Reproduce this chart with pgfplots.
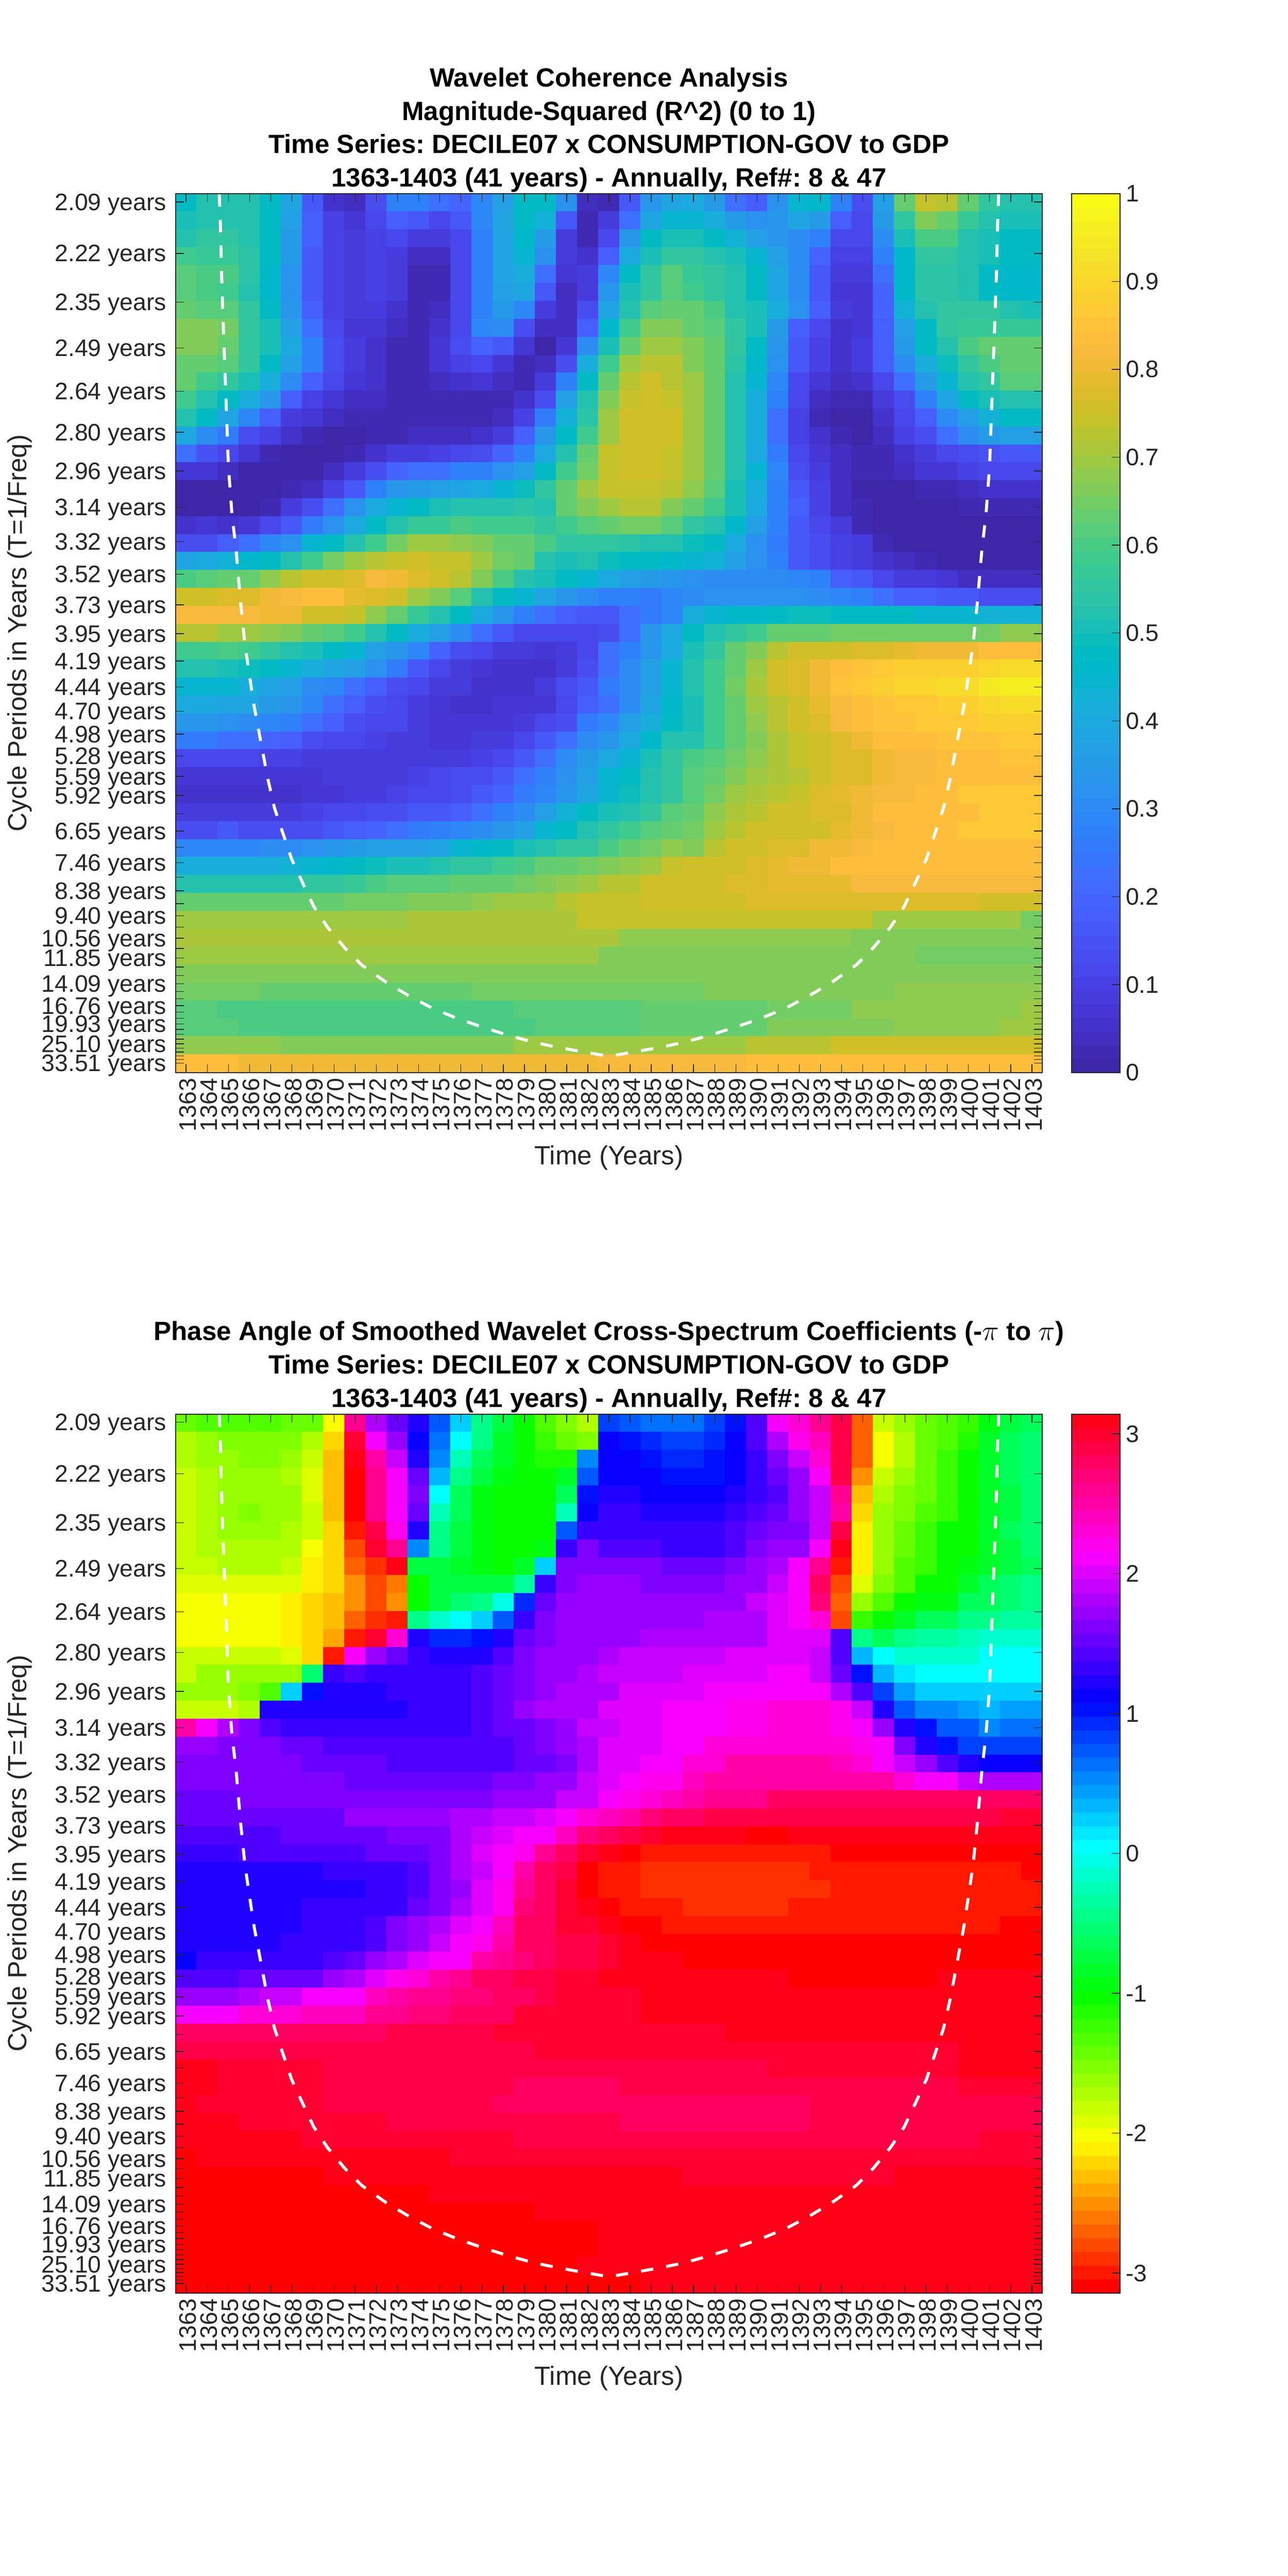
\documentclass[border=0pt]{standalone}
\usepackage{fontspec}
\setmainfont{Liberation Sans}
\usepackage{etoolbox}
\usepackage{pgfplots}
\pgfplotsset{compat=1.18}
\definecolor{axc}{HTML}{262626}
\newcount\cellc \newcount\rowr
\gdef\acc{}
\def\addcell#1{\ifnum\cellc<41 \xappto\acc{(\the\cellc,\the\rowr) [#1] }\global\advance\cellc 1 \fi\xdef\lastv{#1}}
\def\pad{\ifnum\cellc<41 \addcell{\lastv}\expandafter\pad\fi}
\def\RRi#1 {\ifx\stopR#1\else\addcell{#1}\expandafter\RRi\fi}
\def\R#1{\global\cellc=0 \RRi#1 \stopR{} \pad\global\advance\rowr 1 }
% ---- magnitude-squared coherence, 49 rows (top to bottom) x 41 years
\R{.48 .52 .53 .53 .48 .39 .16 .06 .04 .14 .28 .27 .23 .20 .29 .37 .48 .48 .32 .04 .03 .16 .34 .39 .40 .35 .23 .18 .32 .45 .46 .27 .14 .37 .64 .74 .72 .64 .55 .52 .52}
\R{.51 .52 .53 .52 .47 .37 .18 .10 .07 .12 .18 .17 .12 .16 .29 .39 .47 .43 .16 .03 .08 .23 .39 .44 .44 .41 .35 .32 .34 .39 .35 .18 .12 .35 .55 .66 .64 .57 .52 .51 .51}
\R{.53 .55 .55 .53 .47 .35 .18 .10 .08 .10 .11 .09 .08 .12 .27 .38 .46 .35 .09 .03 .12 .33 .47 .51 .51 .48 .43 .37 .33 .31 .27 .12 .11 .31 .51 .60 .60 .53 .51 .47 .47}
\R{.59 .57 .57 .54 .47 .35 .17 .10 .09 .10 .09 .04 .04 .11 .27 .38 .45 .32 .08 .06 .18 .40 .51 .56 .56 .53 .51 .45 .37 .31 .20 .10 .10 .27 .46 .55 .55 .53 .51 .47 .47}
\R{.62 .60 .60 .54 .46 .32 .17 .10 .08 .10 .09 .03 .03 .11 .27 .38 .42 .23 .07 .08 .29 .48 .55 .61 .57 .55 .53 .47 .39 .30 .17 .09 .08 .22 .46 .54 .54 .52 .48 .46 .46}
\R{.62 .60 .59 .53 .46 .32 .17 .10 .08 .10 .09 .03 .03 .11 .27 .37 .39 .16 .04 .09 .34 .50 .56 .61 .59 .55 .53 .48 .39 .30 .17 .07 .07 .20 .46 .54 .54 .52 .48 .46 .46}
\R{.64 .62 .62 .55 .47 .34 .18 .10 .08 .09 .06 .03 .04 .11 .27 .35 .29 .09 .04 .13 .39 .52 .61 .63 .63 .60 .53 .51 .42 .32 .18 .08 .07 .20 .43 .52 .55 .56 .55 .53 .51}
\R{.66 .66 .65 .56 .50 .37 .23 .11 .07 .07 .04 .03 .06 .12 .29 .30 .14 .04 .04 .18 .46 .59 .66 .66 .64 .62 .55 .51 .35 .18 .12 .06 .07 .18 .37 .48 .55 .57 .57 .57 .57}
\R{.66 .66 .63 .56 .50 .40 .28 .14 .08 .06 .03 .03 .07 .13 .20 .16 .07 .01 .07 .31 .51 .63 .70 .70 .67 .63 .55 .48 .33 .16 .10 .06 .09 .18 .35 .48 .53 .60 .63 .63 .63}
\R{.64 .63 .61 .55 .48 .37 .28 .14 .08 .06 .03 .03 .07 .10 .11 .07 .03 .04 .14 .41 .59 .70 .73 .73 .66 .63 .54 .46 .32 .16 .10 .06 .09 .18 .31 .42 .49 .55 .60 .63 .64}
\R{.63 .59 .55 .51 .42 .31 .18 .12 .07 .06 .03 .03 .04 .06 .07 .04 .03 .08 .27 .47 .64 .73 .75 .73 .70 .64 .53 .44 .29 .12 .07 .04 .06 .11 .22 .35 .45 .52 .56 .61 .62}
\R{.59 .53 .48 .42 .34 .18 .10 .07 .04 .04 .03 .03 .03 .03 .03 .03 .06 .14 .36 .53 .66 .74 .76 .74 .70 .64 .53 .41 .27 .11 .04 .03 .03 .08 .14 .27 .38 .48 .51 .53 .53}
\R{.53 .47 .39 .29 .18 .09 .07 .04 .03 .03 .03 .03 .03 .03 .03 .04 .10 .25 .43 .54 .70 .75 .76 .75 .70 .64 .53 .41 .23 .10 .03 .01 .01 .06 .11 .18 .30 .37 .43 .48 .48}
\R{.40 .31 .25 .14 .10 .06 .03 .01 .01 .03 .03 .04 .04 .04 .06 .09 .18 .34 .47 .59 .70 .75 .76 .75 .70 .64 .53 .41 .23 .10 .06 .03 .01 .04 .10 .14 .23 .31 .35 .37 .37}
\R{.22 .15 .12 .07 .03 .01 .01 .01 .03 .06 .08 .09 .10 .11 .13 .20 .27 .40 .53 .63 .74 .76 .76 .74 .70 .63 .53 .40 .25 .12 .07 .04 .03 .03 .06 .09 .11 .14 .15 .16 .16}
\R{.07 .07 .04 .01 .01 .01 .01 .04 .08 .14 .20 .23 .23 .27 .28 .32 .37 .48 .59 .65 .74 .76 .76 .74 .70 .63 .52 .44 .29 .14 .09 .04 .03 .03 .04 .07 .07 .10 .11 .11 .11}
\R{.01 .01 .01 .01 .01 .03 .04 .10 .17 .27 .34 .35 .36 .38 .40 .44 .49 .55 .63 .70 .74 .74 .74 .72 .68 .62 .51 .41 .27 .16 .10 .04 .01 .01 .01 .03 .03 .04 .06 .06 .06}
\R{.01 .01 .01 .01 .03 .09 .13 .22 .32 .40 .45 .48 .51 .52 .52 .53 .54 .53 .63 .66 .70 .72 .72 .67 .64 .59 .50 .40 .27 .18 .10 .04 .03 .01 .00 .01 .01 .03 .03 .03 .03}
\R{.06 .07 .06 .07 .12 .17 .25 .32 .40 .48 .53 .57 .57 .60 .59 .59 .59 .56 .59 .62 .64 .65 .65 .62 .56 .52 .46 .37 .27 .17 .12 .09 .03 .01 .01 .00 .01 .01 .01 .01 .01}
\R{.13 .13 .18 .22 .29 .32 .44 .47 .53 .59 .65 .69 .69 .68 .66 .64 .63 .60 .56 .56 .55 .54 .53 .52 .49 .47 .40 .32 .25 .17 .14 .10 .08 .03 .01 .01 .01 .01 .01 .01 .01}
\R{.39 .40 .43 .46 .48 .53 .59 .65 .70 .73 .74 .75 .74 .74 .70 .65 .63 .53 .51 .52 .49 .48 .47 .46 .45 .43 .37 .32 .27 .16 .13 .10 .08 .06 .04 .03 .01 .01 .01 .01 .00}
\R{.60 .62 .63 .64 .68 .73 .76 .76 .78 .82 .80 .77 .75 .72 .67 .60 .53 .51 .47 .44 .40 .37 .35 .33 .32 .31 .31 .31 .31 .29 .27 .18 .16 .11 .09 .08 .07 .04 .04 .04 .04}
\R{.76 .76 .78 .78 .80 .82 .84 .83 .79 .78 .75 .70 .67 .61 .53 .48 .45 .39 .34 .30 .28 .27 .25 .29 .31 .32 .32 .32 .32 .32 .31 .29 .27 .22 .18 .18 .17 .16 .14 .14 .14}
\R{.82 .82 .82 .82 .81 .80 .76 .75 .74 .68 .64 .57 .52 .48 .40 .34 .28 .22 .18 .17 .17 .22 .25 .29 .42 .44 .46 .46 .48 .49 .49 .48 .48 .48 .47 .45 .44 .44 .43 .43 .43}
\R{.72 .72 .70 .70 .68 .66 .64 .62 .59 .53 .47 .42 .37 .31 .22 .16 .12 .11 .11 .11 .14 .23 .34 .40 .47 .52 .55 .59 .63 .63 .64 .65 .65 .65 .65 .65 .65 .65 .65 .68 .68}
\R{.59 .59 .60 .59 .55 .52 .50 .47 .44 .37 .34 .29 .20 .13 .11 .09 .08 .07 .08 .11 .23 .28 .34 .40 .51 .55 .63 .66 .72 .75 .76 .76 .78 .78 .79 .80 .81 .81 .83 .83 .83}
\R{.52 .52 .51 .49 .48 .45 .42 .39 .37 .32 .25 .17 .11 .09 .07 .06 .06 .06 .09 .14 .23 .31 .37 .44 .52 .59 .64 .70 .75 .78 .80 .84 .85 .86 .88 .88 .89 .89 .90 .92 .92}
\R{.45 .45 .44 .42 .39 .37 .31 .29 .23 .18 .14 .11 .09 .08 .06 .06 .06 .08 .13 .17 .25 .30 .37 .45 .52 .59 .65 .71 .75 .78 .81 .85 .86 .88 .90 .90 .91 .91 .95 .96 .96}
\R{.40 .40 .39 .38 .35 .33 .29 .23 .18 .14 .11 .09 .07 .06 .06 .07 .07 .07 .11 .18 .23 .31 .39 .46 .51 .59 .64 .70 .73 .76 .79 .82 .84 .85 .86 .87 .88 .88 .90 .91 .91}
\R{.34 .34 .32 .31 .29 .28 .23 .18 .14 .12 .11 .09 .07 .07 .07 .07 .09 .11 .14 .25 .29 .37 .42 .48 .51 .59 .64 .68 .73 .76 .78 .82 .83 .85 .85 .86 .87 .87 .88 .88 .88}
\R{.25 .25 .22 .22 .20 .18 .14 .12 .11 .10 .09 .08 .07 .07 .08 .09 .11 .16 .22 .30 .34 .40 .46 .52 .53 .59 .64 .67 .71 .74 .76 .78 .81 .83 .83 .84 .85 .85 .85 .86 .86}
\R{.12 .12 .11 .11 .10 .10 .09 .09 .08 .08 .08 .08 .09 .09 .10 .12 .17 .23 .30 .35 .40 .45 .50 .55 .60 .61 .65 .68 .71 .74 .76 .77 .77 .80 .82 .82 .84 .84 .84 .85 .85}
\R{.07 .07 .07 .07 .07 .07 .07 .08 .08 .09 .09 .10 .11 .13 .14 .17 .22 .27 .32 .37 .44 .47 .53 .56 .62 .63 .66 .70 .71 .73 .76 .78 .78 .80 .82 .82 .84 .84 .84 .84 .84}
\R{.06 .06 .06 .06 .06 .06 .07 .07 .08 .09 .10 .11 .12 .14 .17 .20 .25 .29 .34 .38 .45 .49 .52 .56 .62 .65 .69 .71 .73 .74 .78 .79 .81 .82 .82 .84 .84 .86 .86 .86 .86}
\R{.08 .08 .08 .08 .08 .09 .10 .11 .12 .13 .14 .16 .17 .18 .22 .27 .31 .37 .43 .48 .51 .53 .55 .61 .64 .68 .71 .73 .75 .75 .77 .78 .80 .83 .84 .84 .84 .84 .87 .87 .87}
\R{.14 .14 .16 .14 .14 .14 .14 .17 .18 .20 .23 .25 .28 .29 .31 .33 .37 .45 .48 .53 .55 .59 .62 .64 .65 .70 .72 .75 .75 .76 .76 .79 .81 .82 .84 .84 .84 .87 .87 .87 .87}
\R{.29 .29 .29 .29 .30 .31 .32 .34 .35 .36 .37 .37 .39 .44 .46 .48 .51 .53 .55 .55 .60 .63 .65 .68 .67 .73 .75 .76 .77 .78 .81 .81 .82 .83 .84 .84 .84 .84 .84 .84 .84}
\R{.42 .42 .42 .42 .42 .43 .45 .46 .47 .49 .50 .51 .52 .55 .55 .59 .60 .63 .64 .65 .66 .68 .70 .74 .75 .75 .75 .78 .79 .80 .81 .83 .83 .83 .84 .84 .84 .84 .84 .84 .84}
\R{.53 .53 .53 .53 .53 .53 .55 .55 .57 .60 .61 .62 .62 .63 .64 .64 .65 .66 .68 .70 .72 .72 .75 .76 .75 .76 .78 .78 .79 .79 .79 .79 .82 .82 .82 .82 .82 .82 .82 .82 .82}
\R{.64 .64 .64 .64 .64 .64 .64 .64 .65 .65 .65 .66 .67 .67 .68 .69 .69 .70 .72 .74 .74 .74 .76 .76 .76 .76 .76 .77 .77 .77 .77 .77 .77 .77 .77 .77 .77 .77 .76 .76 .76}
\R{.70 .70 .70 .70 .70 .70 .70 .70 .70 .70 .70 .71 .71 .71 .71 .71 .71 .71 .71 .74 .74 .74 .74 .74 .74 .74 .74 .74 .74 .74 .74 .74 .74 .70 .70 .70 .70 .70 .70 .70 .65}
\R{.71 .71 .71 .71 .71 .71 .71 .71 .71 .71 .71 .71 .71 .71 .71 .71 .71 .71 .71 .71 .71 .68 .68 .68 .68 .68 .68 .68 .68 .68 .68 .68 .66 .66 .66 .66 .66 .66 .66 .66 .66}
\R{.69 .69 .69 .69 .69 .69 .69 .69 .69 .69 .69 .69 .69 .69 .69 .69 .69 .69 .69 .69 .66 .66 .66 .66 .66 .66 .66 .66 .66 .66 .66 .66 .66 .66 .66 .65 .65 .65 .65 .65 .65}
\R{.66 .66 .66 .66 .66 .66 .66 .66 .66 .66 .66 .66 .66 .66 .66 .66 .66 .66 .66 .66 .66 .66 .66 .66 .66 .66 .66 .66 .66 .66 .66 .66 .66 .66 .66 .66 .66 .66 .66 .66 .66}
\R{.65 .65 .65 .65 .64 .64 .64 .64 .64 .64 .64 .64 .64 .64 .65 .65 .65 .65 .65 .65 .65 .65 .65 .65 .65 .66 .66 .66 .66 .66 .66 .66 .66 .66 .68 .68 .68 .68 .68 .68 .68}
\R{.62 .62 .60 .60 .60 .60 .60 .60 .60 .60 .60 .60 .60 .60 .60 .60 .62 .62 .62 .62 .62 .62 .64 .64 .64 .64 .64 .64 .65 .65 .65 .65 .68 .68 .68 .68 .68 .68 .68 .68 .70}
\R{.62 .62 .62 .60 .60 .60 .60 .60 .60 .60 .60 .60 .60 .60 .60 .60 .60 .62 .62 .62 .62 .62 .64 .64 .64 .64 .64 .64 .66 .66 .66 .66 .66 .66 .68 .68 .68 .68 .68 .70 .70}
\R{.68 .68 .68 .68 .68 .67 .67 .67 .67 .67 .67 .67 .67 .67 .67 .67 .69 .69 .69 .69 .69 .69 .69 .69 .69 .69 .69 .72 .72 .72 .72 .75 .75 .75 .75 .75 .75 .75 .75 .76 .76}
\R{.84 .84 .84 .81 .81 .81 .81 .81 .81 .81 .81 .81 .81 .81 .81 .81 .81 .81 .81 .81 .82 .82 .82 .82 .82 .82 .82 .84 .84 .84 .84 .84 .84 .84 .84 .84 .84 .84 .84 .84 .84}
\let\accA\acc
\gdef\acc{}\global\rowr=0
% ---- phase angle (radians), 49 rows (top to bottom) x 41 years
\R{-1.4 -1.3 -1.3 -1.3 -1.3 -1.4 -1.4 -1.97 2.6 1.85 1.5 1.2 .75 .25 -.4 -.75 -1.0 -1.3 -1.55 -1.75 .85 .72 .62 .62 .62 .8 1.05 1.45 2.1 2.3 2.6 2.85 -2.7 -1.85 -1.6 -1.45 -1.3 -1.2 -.95 -.75 -.6}
\R{-1.7 -1.6 -1.5 -1.5 -1.5 -1.5 -1.75 -2.25 3.0 2.15 1.7 1.15 .6 0 -.45 -.8 -1.0 -1.2 -1.4 -1.55 1.15 1.05 .9 .85 .85 .9 1.1 1.4 1.85 2.2 2.45 2.85 -2.7 -1.97 -1.7 -1.4 -1.3 -1.15 -.85 -.65 -.5}
\R{-1.7 -1.6 -1.6 -1.5 -1.5 -1.6 -1.85 -2.35 3.1 2.5 1.95 1.25 .5 -.2 -.6 -.85 -1.0 -1.15 -1.15 .5 1.15 1.1 1.05 .9 .9 1.0 1.15 1.3 1.65 1.95 2.35 2.85 -2.7 -1.97 -1.7 -1.4 -1.2 -1.05 -.85 -.65 -.5}
\R{-1.8 -1.7 -1.6 -1.6 -1.6 -1.7 -1.95 -2.35 -3.1 2.6 2.1 1.5 .3 -.4 -.75 -.95 -1.05 -1.05 -.8 .7 1.15 1.15 1.1 1.05 1.05 1.05 1.1 1.35 1.5 1.7 2.1 2.85 -2.55 -1.85 -1.65 -1.4 -1.2 -1.05 -.85 -.65 -.5}
\R{-1.85 -1.7 -1.6 -1.6 -1.6 -1.6 -1.95 -2.35 -3.1 2.6 2.15 1.6 0 -.6 -.9 -1.0 -1.05 -1.05 -.6 1.0 1.25 1.25 1.15 1.15 1.15 1.15 1.2 1.3 1.45 1.7 1.95 2.6 -2.35 -1.75 -1.5 -1.45 -1.25 -1.05 -.85 -.7 -.55}
\R{-1.85 -1.7 -1.65 -1.5 -1.6 -1.6 -1.8 -2.35 -3.1 2.6 2.15 1.5 -.2 -.65 -.9 -1.0 -1.05 -1.05 -.2 1.15 1.3 1.3 1.2 1.2 1.2 1.2 1.3 1.4 1.5 1.7 1.95 2.5 -2.2 -1.65 -1.5 -1.35 -1.2 -1.05 -.85 -.7 -.55}
\R{-1.85 -1.7 -1.65 -1.65 -1.65 -1.75 -1.85 -2.25 -3.0 2.9 2.2 1.25 -.45 -.75 -.95 -1.05 -1.05 -1.05 .75 1.35 1.35 1.35 1.3 1.3 1.3 1.3 1.4 1.5 1.6 1.65 1.95 2.9 -2.1 -1.65 -1.4 -1.25 -1.05 -1.05 -.8 -.65 -.55}
\R{-1.85 -1.7 -1.7 -1.7 -1.7 -1.75 -2.0 -2.25 -2.8 3.0 2.6 .5 -.45 -.75 -.95 -1.05 -1.05 -.95 1.35 1.65 1.45 1.45 1.45 1.35 1.35 1.35 1.45 1.6 1.7 1.75 2.1 3.1 -2.1 -1.65 -1.4 -1.2 -1.05 -1.05 -.8 -.7 -.55}
\R{-1.85 -1.85 -1.75 -1.75 -1.75 -1.85 -2.1 -2.25 -2.7 -2.9 3.1 -.7 -.7 -.8 -.95 -1.05 -.85 .25 1.65 1.65 1.65 1.65 1.65 1.5 1.5 1.5 1.6 1.7 1.85 2.1 2.6 -3.0 -2.1 -1.65 -1.3 -1.2 -1.05 -.95 -.8 -.7 -.6}
\R{-1.9 -1.9 -1.9 -1.9 -1.9 -1.95 -2.1 -2.25 -2.55 -2.8 -2.65 -1.05 -.75 -.7 -.75 -.7 -.3 1.3 1.65 1.75 1.75 1.75 1.65 1.65 1.65 1.65 1.7 1.7 1.95 2.1 2.75 -2.8 -1.95 -1.55 -1.3 -1.05 -1.05 -.85 -.65 -.55 -.45}
\R{-2.0 -2.0 -2.0 -2.0 -2.0 -2.1 -2.2 -2.35 -2.55 -2.8 -2.55 -1.05 -.75 -.5 -.4 -.05 .9 1.5 1.75 1.75 1.75 1.75 1.75 1.75 1.75 1.75 1.75 1.9 2.0 2.1 2.7 -2.7 -1.65 -1.3 -1.05 -.95 -.9 -.65 -.6 -.5 -.45}
\R{-2.0 -2.0 -2.0 -2.0 -2.0 -2.1 -2.2 -2.35 -2.7 -2.85 -2.95 -.4 -.15 0 .25 .75 1.3 1.6 1.75 1.75 1.75 1.75 1.75 1.75 1.75 1.85 1.85 1.85 2.0 2.1 2.35 -2.8 -1.2 -1.05 -.85 -.65 -.6 -.45 -.45 -.35 -.35}
\R{-2.0 -2.0 -2.0 -2.0 -2.0 -2.1 -2.2 -2.45 -2.95 2.95 2.3 1.25 .9 .9 1.05 1.25 1.5 1.65 1.75 1.75 1.75 1.75 1.85 1.85 1.85 1.85 1.85 1.85 2.0 2.0 2.0 1.45 -.4 -.6 -.4 -.3 -.3 -.2 -.15 -.15 -.15}
\R{-1.85 -1.8 -1.8 -1.8 -1.8 -1.95 -2.2 -2.95 2.15 1.75 1.5 1.35 1.25 1.25 1.25 1.45 1.6 1.7 1.75 1.75 1.85 1.9 1.9 1.9 1.9 1.9 2.0 2.0 2.0 2.0 1.9 1.4 .35 0 -.1 -.1 -.1 -.1 0 0 0}
\R{-1.85 -1.65 -1.65 -1.65 -1.65 -1.6 -.55 1.3 1.45 1.3 1.3 1.3 1.3 1.3 1.45 1.55 1.65 1.75 1.75 1.85 1.9 1.9 1.9 1.9 2.0 2.0 2.0 2.0 2.1 2.1 1.95 1.55 1.05 .3 .1 .07 .07 .07 .07 .07 .07}
\R{-1.65 -1.65 -1.65 -1.5 -1.3 .25 1.05 1.2 1.2 1.2 1.3 1.3 1.3 1.3 1.45 1.5 1.65 1.7 1.85 1.85 1.85 2.0 2.0 2.0 2.0 2.1 2.1 2.1 2.1 2.1 2.1 1.8 1.4 .8 .4 .25 .25 .2 .25 .25 .25}
\R{-1.85 -1.85 -1.85 -1.7 1.25 1.25 1.25 1.25 1.25 1.25 1.25 1.3 1.3 1.3 1.45 1.55 1.7 1.85 1.85 1.85 2.0 2.0 2.0 2.1 2.1 2.1 2.2 2.2 2.35 2.35 2.35 2.2 1.9 1.2 .7 .55 .5 .4 .35 .45 .45}
\R{2.55 2.15 1.85 1.6 1.45 1.35 1.3 1.3 1.3 1.3 1.3 1.3 1.3 1.3 1.45 1.5 1.55 1.65 1.7 1.9 1.95 2.0 2.0 2.1 2.1 2.1 2.2 2.2 2.3 2.3 2.3 2.2 2.1 1.7 1.2 1.0 .7 .7 .55 .65 .65}
\R{1.75 1.75 1.6 1.6 1.6 1.5 1.5 1.4 1.4 1.4 1.4 1.4 1.4 1.4 1.4 1.45 1.5 1.6 1.7 1.85 2.0 2.05 2.05 2.1 2.1 2.3 2.3 2.35 2.35 2.35 2.35 2.35 2.2 2.1 1.6 1.25 1.05 .85 .85 .85 .85}
\R{1.6 1.6 1.6 1.6 1.6 1.6 1.5 1.5 1.5 1.5 1.4 1.4 1.4 1.4 1.45 1.45 1.5 1.55 1.65 1.85 2.0 2.0 2.1 2.1 2.3 2.3 2.5 2.5 2.5 2.5 2.5 2.45 2.35 2.15 1.9 1.75 1.45 1.2 1.15 1.15 1.15}
\R{1.6 1.6 1.6 1.6 1.6 1.6 1.6 1.6 1.55 1.55 1.55 1.55 1.55 1.55 1.55 1.65 1.65 1.7 1.75 1.9 2.0 2.15 2.2 2.2 2.4 2.5 2.5 2.55 2.55 2.55 2.55 2.55 2.55 2.5 2.3 2.15 2.1 1.95 1.85 1.85 1.85}
\R{1.5 1.5 1.5 1.6 1.6 1.6 1.6 1.6 1.65 1.65 1.65 1.65 1.65 1.65 1.65 1.7 1.75 1.75 1.9 1.95 2.1 2.2 2.35 2.45 2.55 2.6 2.6 2.6 2.75 2.75 2.75 2.75 2.75 2.75 2.75 2.75 2.75 2.75 2.75 2.75 2.8}
\R{1.55 1.55 1.55 1.55 1.55 1.55 1.55 1.55 1.7 1.7 1.7 1.7 1.7 1.8 1.8 1.9 1.9 2.0 2.1 2.3 2.4 2.55 2.7 2.75 2.8 2.9 2.9 2.9 2.9 2.9 2.9 2.9 2.9 2.9 2.9 2.9 2.9 2.9 2.9 3.0 3.0}
\R{1.45 1.45 1.45 1.45 1.45 1.5 1.5 1.5 1.5 1.5 1.6 1.6 1.6 1.8 1.95 2.0 2.1 2.1 2.4 2.65 2.8 2.9 3.0 3.1 3.1 3.1 3.1 -3.1 -3.1 3.1 3.1 3.1 3.1 3.1 3.1 3.1 3.1 3.1 3.1 3.1 3.1}
\R{1.35 1.35 1.35 1.4 1.4 1.4 1.4 1.4 1.4 1.5 1.5 1.5 1.65 1.8 2.0 2.1 2.25 2.6 2.8 3.0 3.1 -3.1 -3.0 -3.0 -3.0 -3.0 -3.0 -3.0 -3.0 -3.0 -3.0 -3.1 -3.1 -3.1 -3.1 -3.1 -3.1 -3.1 -3.1 -3.1 -3.1}
\R{1.25 1.25 1.25 1.25 1.25 1.25 1.25 1.35 1.35 1.35 1.35 1.45 1.65 1.85 1.95 2.1 2.55 2.8 2.9 -3.1 -3.0 -3.0 -2.9 -2.9 -2.9 -2.9 -2.9 -2.9 -2.9 -2.9 -3.0 -3.0 -3.0 -3.0 -3.0 -3.0 -3.0 -3.0 -3.0 -3.0 -3.1}
\R{1.2 1.2 1.2 1.25 1.25 1.25 1.25 1.25 1.25 1.35 1.35 1.45 1.6 1.75 2.0 2.2 2.6 2.8 3.0 -3.1 -3.0 -3.0 -2.9 -2.9 -2.9 -2.9 -2.9 -2.9 -2.9 -2.9 -2.9 -3.0 -3.0 -3.0 -3.0 -3.0 -3.0 -3.0 -3.0 -3.0 -3.0}
\R{1.2 1.2 1.2 1.2 1.2 1.2 1.3 1.3 1.3 1.35 1.35 1.5 1.65 1.85 2.05 2.25 2.65 2.8 3.0 3.1 -3.1 -3.0 -3.0 -3.0 -2.9 -2.9 -2.9 -2.9 -2.9 -3.0 -3.0 -3.0 -3.0 -3.0 -3.0 -3.0 -3.0 -3.0 -3.0 -3.0 -3.0}
\R{1.2 1.2 1.2 1.2 1.2 1.2 1.35 1.35 1.35 1.45 1.6 1.7 1.85 2.0 2.15 2.4 2.75 2.8 3.0 3.0 3.1 -3.1 -3.1 -3.0 -3.0 -3.0 -3.0 -3.0 -3.0 -3.0 -3.0 -3.0 -3.0 -3.0 -3.0 -3.0 -3.0 -3.0 -3.0 -3.1 -3.1}
\R{1.2 1.2 1.2 1.2 1.2 1.3 1.3 1.35 1.35 1.45 1.6 1.75 1.9 2.15 2.2 2.5 2.75 2.8 2.9 2.9 3.0 3.1 -3.1 -3.1 -3.1 -3.1 -3.1 -3.1 -3.1 -3.1 -3.1 -3.1 -3.1 -3.1 -3.1 -3.1 -3.1 -3.1 -3.1 -3.1 -3.1}
\R{1.1 1.3 1.3 1.3 1.3 1.35 1.35 1.4 1.55 1.75 1.85 2.0 2.1 2.15 2.5 2.6 2.7 2.8 2.9 2.9 3.0 3.1 3.1 3.1 -3.1 -3.1 -3.1 -3.1 -3.1 -3.1 -3.1 -3.1 -3.1 -3.1 -3.1 -3.1 -3.1 -3.1 -3.1 -3.1 -3.1}
\R{1.4 1.4 1.4 1.5 1.5 1.55 1.55 1.7 1.85 2.0 2.2 2.35 2.5 2.6 2.8 2.8 2.9 2.9 3.0 3.0 3.1 3.1 3.1 3.1 3.1 3.1 3.1 3.1 3.1 -3.1 -3.1 -3.1 -3.1 -3.1 -3.1 -3.1 3.1 3.1 3.1 3.1 3.1}
\R{1.7 1.7 1.7 1.8 1.9 1.95 2.1 2.1 2.1 2.4 2.5 2.6 2.6 2.7 2.7 2.8 2.8 2.9 3.0 3.0 3.0 3.0 3.1 3.1 3.1 3.1 3.1 3.1 3.1 3.1 3.1 3.1 3.1 3.1 3.1 3.1 3.1 3.1 3.1 3.1 3.1}
\R{2.1 2.1 2.1 2.3 2.3 2.3 2.4 2.4 2.4 2.6 2.6 2.7 2.7 2.8 2.8 2.8 3.0 3.0 3.0 3.0 3.0 3.0 3.1 3.1 3.1 3.1 3.1 3.1 3.1 3.1 3.1 3.1 3.1 3.1 3.1 3.1 3.1 3.1 3.1 3.1 3.1}
\R{2.8 2.8 2.8 2.8 2.8 2.8 2.8 2.8 2.8 2.8 2.9 2.9 2.9 2.9 2.9 3.0 3.0 3.0 3.0 3.0 3.0 3.0 3.0 3.0 3.0 3.0 3.1 3.1 3.1 3.1 3.1 3.1 3.1 3.1 3.1 3.1 3.1 3.1 3.1 3.1 3.1}
\R{2.9 2.9 2.9 2.9 2.9 2.9 2.9 2.9 2.9 2.9 2.9 2.9 2.9 2.9 2.9 2.9 2.9 3.0 3.0 3.0 3.0 3.0 3.0 3.0 3.0 3.0 3.0 3.0 3.0 3.0 3.0 3.0 3.0 3.0 3.0 3.0 3.0 3.1 3.1 3.1 3.1}
\R{3.1 3.1 3.0 3.0 3.0 3.0 3.0 2.9 2.9 2.9 2.9 2.9 2.9 2.9 2.9 2.9 2.9 2.9 2.9 2.9 2.9 2.9 2.9 2.9 2.9 2.9 2.9 2.9 3.0 3.0 3.0 3.0 3.0 3.0 3.0 3.0 3.0 3.1 3.1 3.1 3.1}
\R{3.1 3.1 3.0 3.0 3.0 3.0 3.0 2.9 2.9 2.9 2.9 2.9 2.9 2.9 2.9 2.9 2.8 2.8 2.8 2.8 2.8 2.9 2.9 2.9 2.9 2.9 2.9 2.9 2.9 2.9 2.9 2.9 2.9 2.9 2.9 2.9 2.9 3.0 3.0 3.0 3.0}
\R{3.1 3.0 3.0 3.0 3.0 3.0 3.0 2.9 2.9 2.9 2.9 2.9 2.9 2.9 2.9 2.8 2.8 2.8 2.8 2.8 2.8 2.8 2.8 2.8 2.8 2.8 2.8 2.8 2.8 2.8 2.9 2.9 2.9 2.9 2.9 2.9 2.9 2.9 2.9 2.9 2.9}
\R{3.1 3.1 3.1 3.0 3.0 3.0 3.0 3.0 3.0 3.0 2.9 2.9 2.9 2.9 2.9 2.9 2.9 2.9 2.9 2.9 2.9 2.8 2.8 2.8 2.8 2.8 2.8 2.8 2.8 2.8 2.9 2.9 2.9 2.9 2.9 2.9 2.9 2.9 2.9 2.9 2.9}
\R{3.1 3.1 3.1 3.1 3.1 3.1 3.0 3.0 3.0 3.0 3.0 3.0 3.0 3.0 3.0 3.0 2.9 2.9 2.9 2.9 2.9 2.9 2.9 2.9 2.9 2.9 2.9 2.9 2.9 2.9 2.9 2.9 2.9 2.9 2.9 2.9 2.9 2.9 3.0 3.0 3.0}
\R{-3.1 3.1 3.1 3.1 3.1 3.1 3.1 3.1 3.1 3.1 3.1 3.1 3.1 3.0 3.0 3.0 3.0 3.0 3.0 3.0 3.0 3.0 3.0 3.0 3.0 3.0 3.0 3.0 3.0 3.0 3.0 3.0 3.0 3.0 3.0 3.0 3.0 3.0 3.0 3.0 3.0}
\R{-3.1 -3.1 -3.1 -3.1 -3.1 -3.1 -3.1 3.1 3.1 3.1 3.1 3.1 3.1 3.1 3.1 3.1 3.1 3.1 3.1 3.1 3.1 3.1 3.1 3.1 3.0 3.0 3.0 3.0 3.0 3.0 3.0 3.0 3.0 3.0 3.1 3.1 3.1 3.1 3.1 3.1 3.1}
\R{-3.1 -3.1 -3.1 -3.1 -3.1 -3.1 -3.1 -3.1 -3.1 -3.1 -3.1 -3.1 3.1 3.1 3.1 3.1 3.1 3.1 3.1 3.1 3.1 3.1 3.1 3.1 3.1 3.1 3.1 3.1 3.1 3.1 3.1 3.1 3.1 3.1 3.1 3.1 3.1 3.1 3.1 3.1 3.1}
\R{-3.1 -3.1 -3.1 -3.1 -3.1 -3.1 -3.1 -3.1 -3.1 -3.1 -3.1 -3.1 -3.1 -3.1 -3.1 -3.1 -3.1 3.1 3.1 3.1 3.1 3.1 3.1 3.1 3.1 3.1 3.1 3.1 3.1 3.1 3.1 3.1 3.1 3.1 3.1 3.1 3.1 3.1 3.1 3.1 3.1}
\R{-3.1 -3.1 -3.1 -3.1 -3.1 -3.1 -3.1 -3.1 -3.1 -3.1 -3.1 -3.1 -3.1 -3.1 -3.1 -3.1 -3.1 -3.1 -3.1 -3.1 3.1 3.1 3.1 3.1 3.1 3.1 3.1 3.1 3.1 3.1 3.1 3.1 3.1 3.1 3.1 3.1 3.1 3.1 3.1 3.1 3.1}
\R{-3.1 -3.1 -3.1 -3.1 -3.1 -3.1 -3.1 -3.1 -3.1 -3.1 -3.1 -3.1 -3.1 -3.1 -3.1 -3.1 -3.1 -3.1 -3.1 -3.1 3.1 3.1 3.1 3.1 3.1 3.1 3.1 3.1 3.1 3.1 3.1 3.1 3.1 3.1 3.1 3.1 3.1 3.1 3.1 3.1 3.1}
\R{-3.1 -3.1 -3.1 -3.1 -3.1 -3.1 -3.1 -3.1 -3.1 -3.1 -3.1 -3.1 -3.1 -3.1 -3.1 -3.1 -3.1 -3.1 -3.1 3.1 3.1 3.1 3.1 3.1 3.1 3.1 3.1 3.1 3.1 3.1 3.1 3.1 3.1 3.1 3.1 3.1 3.1 3.1 3.1 3.1 3.1}
\R{-3.1 -3.1 -3.1 -3.1 -3.1 -3.1 -3.1 -3.1 -3.1 -3.1 -3.1 -3.1 -3.1 -3.1 -3.1 -3.1 -3.1 -3.1 -3.1 -3.1 -3.1 -3.1 3.1 3.1 3.1 3.1 3.1 3.1 3.1 3.1 3.1 3.1 3.1 3.1 3.1 3.1 3.1 3.1 3.1 3.1 3.1}
\let\accB\acc
\def\plotcells#1{\addplot[matrix plot*,point meta=explicit,mesh/cols=41] coordinates {#1};}
\def\plotbar#1{\addplot[matrix plot*,point meta=explicit,mesh/cols=2] coordinates {#1};}
\gdef\barA{}\gdef\barB{}
\foreach \k in {0,...,63}{%
  \pgfmathsetmacro\vA{(\k+0.5)/64}%
  \pgfmathsetmacro\vB{-3.14159+(\k+0.5)*6.28318/64}%
  \xappto\barA{(0,\vA) [\vA] (1,\vA) [\vA] }%
  \xappto\barB{(0,\vB) [\vB] (1,\vB) [\vB] }%
}
\pgfplotsset{
  colormap={parula64}{
    rgb=(.2422,.1504,.6603) rgb=(.2504,.1650,.7076) rgb=(.2578,.1818,.7511) rgb=(.2647,.1978,.7952)
    rgb=(.2706,.2147,.8364) rgb=(.2751,.2342,.8710) rgb=(.2783,.2559,.8991) rgb=(.2803,.2782,.9221)
    rgb=(.2813,.3006,.9414) rgb=(.2810,.3228,.9579) rgb=(.2795,.3447,.9717) rgb=(.2760,.3667,.9829)
    rgb=(.2699,.3892,.9906) rgb=(.2602,.4123,.9952) rgb=(.2440,.4358,.9988) rgb=(.2206,.4603,.9973)
    rgb=(.1963,.4847,.9892) rgb=(.1834,.5074,.9798) rgb=(.1786,.5289,.9682) rgb=(.1764,.5499,.9520)
    rgb=(.1687,.5703,.9359) rgb=(.1540,.5902,.9218) rgb=(.1460,.6091,.9079) rgb=(.1380,.6276,.8973)
    rgb=(.1248,.6459,.8883) rgb=(.1113,.6635,.8763) rgb=(.0952,.6798,.8598) rgb=(.0689,.6948,.8394)
    rgb=(.0297,.7082,.8163) rgb=(.0036,.7203,.7917) rgb=(.0067,.7312,.7660) rgb=(.0433,.7411,.7394)
    rgb=(.0964,.7500,.7120) rgb=(.1408,.7584,.6842) rgb=(.1717,.7670,.6554) rgb=(.1938,.7758,.6251)
    rgb=(.2161,.7843,.5923) rgb=(.2470,.7918,.5567) rgb=(.2906,.7973,.5188) rgb=(.3406,.8008,.4789)
    rgb=(.3909,.8029,.4354) rgb=(.4456,.8024,.3909) rgb=(.5044,.7993,.3480) rgb=(.5616,.7942,.3045)
    rgb=(.6174,.7876,.2612) rgb=(.6720,.7793,.2227) rgb=(.7242,.7698,.1910) rgb=(.7738,.7598,.1646)
    rgb=(.8203,.7498,.1535) rgb=(.8634,.7406,.1596) rgb=(.9035,.7330,.1774) rgb=(.9393,.7288,.2100)
    rgb=(.9728,.7298,.2394) rgb=(.9956,.7434,.2371) rgb=(.9970,.7659,.2199) rgb=(.9952,.7893,.2028)
    rgb=(.9892,.8136,.1885) rgb=(.9786,.8386,.1766) rgb=(.9676,.8639,.1643) rgb=(.9610,.8890,.1537)
    rgb=(.9597,.9135,.1423) rgb=(.9628,.9373,.1265) rgb=(.9691,.9606,.1064) rgb=(.9769,.9839,.0805)
  },
  colormap={hsvbase}{rgb255(0)=(255,0,0) rgb255(32)=(255,255,0) rgb255(64)=(0,255,0) rgb255(96)=(0,255,255) rgb255(128)=(0,0,255) rgb255(160)=(255,0,255) rgb255(189)=(255,0,24)},
  colormap={hsv64}{samples of colormap=(64 of hsvbase)},
  mainax/.style={
    scale only axis, width=526pt, height=533.25pt, anchor=south west,
    xmin=-0.5, xmax=40.5, ymin=-0.5, ymax=48.5, y dir=reverse,
    axis on top, tick align=inside, tick pos=both,
    xticklabel pos=bottom, yticklabel pos=left,
    major tick length=5pt, minor tick num=0,
    axis line style={color=axc,line width=0.6pt},
    every tick/.style={color=axc,line width=0.45pt},
    tick label style={font=\fontsize{14.5}{14.5}\selectfont,text=axc},
    xtick={0,...,40},
    xticklabels={1363,1364,1365,1366,1367,1368,1369,1370,1371,1372,1373,1374,1375,1376,1377,1378,1379,1380,1381,1382,1383,1384,1385,1386,1387,1388,1389,1390,1391,1392,1393,1394,1395,1396,1397,1398,1399,1400,1401,1402,1403},
    xticklabel style={rotate=90,anchor=east,xshift=0pt,yshift=-1pt},
    yticklabel style={xshift=-2pt,yshift=-1.5pt},
    ytick={-0.04,2.83,5.55,8.11,10.52,12.80,14.96,16.99,18.91,20.72,22.43,24.04,25.56,27.00,28.36,29.64,30.85,31.99,33.06,34.08,35.04,35.94,36.80,37.61,38.37,39.09,39.76,40.40,41.01,41.58,42.12,42.62,43.10,43.56,43.98,44.39,44.77,45.13,45.47,45.79,46.09,46.37,46.64,46.90,47.14,47.36,47.58,47.78,47.97},
    yticklabels={2.09 years,2.22 years,2.35 years,2.49 years,2.64 years,2.80 years,2.96 years,3.14 years,3.32 years,3.52 years,3.73 years,3.95 years,4.19 years,4.44 years,4.70 years,4.98 years,5.28 years,5.59 years,5.92 years,{},6.65 years,{},7.46 years,{},8.38 years,{},9.40 years,{},10.56 years,{},11.85 years,{},{},14.09 years,{},{},16.76 years,{},{},19.93 years,{},{},{},25.10 years,{},{},{},{},33.51 years},
    xlabel={Time (Years)},
    ylabel={Cycle Periods in Years (T=1/Freq)},
    label style={font=\fontsize{16}{16}\selectfont,text=axc},
    xlabel style={at={(axis description cs:0.5,0)},anchor=base,yshift=-56pt,inner sep=0pt},
    ylabel style={at={(axis description cs:0,0.5)},anchor=center,yshift=94.5pt,inner sep=0pt},
    title style={at={(axis description cs:0.5,1)},anchor=south,yshift=-5.4pt,align=center,inner sep=0pt,text=black,font=\bfseries\fontsize{16}{20.25}\selectfont\frenchspacing},
    clip=true,
    colormap access=piecewise constant,
  },
  barax/.style={
    scale only axis, width=29.25pt, anchor=south west,
    xmin=-0.5, xmax=1.5, xtick=\empty,
    axis on top, tick align=inside, ytick pos=right, yticklabel pos=right,
    major tick length=5pt,
    axis line style={color=axc,line width=0.6pt},
    every tick/.style={color=axc,line width=0.45pt},
    tick label style={font=\fontsize{14.5}{14.5}\selectfont,text=axc},
    yticklabel style={anchor=west,xshift=0pt},
    colormap access=piecewise constant,
  },
  coi/.style={white,line width=1.8pt,dash pattern=on 7.5pt off 8pt},
}
\def\coi{\addplot[coi,no markers] coordinates {(1.57,-.46)(1.62,1.2)(1.68,4.1)(1.76,6.9)(1.91,11.7)(2.0,14.7)(2.17,17.4)(2.36,19.3)(2.57,22.2)(2.78,24.6)(2.95,26.0)(3.22,28.1)(3.46,29.6)(3.86,32.1)(4.18,33.75)(4.59,35.2)(4.99,36.6)(5.48,37.85)(6.04,39.25)(6.69,40.4)(7.5,41.55)(8.3,42.5)(9.44,43.45)(10.5,44.2)(11.62,44.9)(12.75,45.45)(13.96,45.95)(15.17,46.4)(16.38,46.8)(17.59,47.1)(18.8,47.35)(20.0,47.6)(21.2,47.35)(22.41,47.1)(23.62,46.8)(24.83,46.4)(26.04,45.95)(27.25,45.45)(28.38,44.9)(29.5,44.2)(30.56,43.45)(31.7,42.5)(32.5,41.55)(33.31,40.4)(33.96,39.25)(34.52,37.85)(35.01,36.6)(35.41,35.2)(35.82,33.75)(36.14,32.1)(36.54,29.6)(36.78,28.1)(37.05,26.0)(37.22,24.6)(37.43,22.2)(37.64,19.3)(37.83,17.4)(38.0,14.7)(38.09,11.7)(38.24,6.9)(38.32,4.1)(38.38,1.2)(38.43,-.46)};}
\begin{document}
\begin{tikzpicture}
\useasboundingbox (0,0) rectangle (781.25pt,1563pt);
\begin{axis}[mainax,at={(106.5pt,912.25pt)},colormap name=parula64,point meta min=0,point meta max=1,
  title={Wavelet Coherence Analysis\\Magnitude-Squared (R\textasciicircum 2) (0 to 1)\\Time Series: DECILE07 x CONSUMPTION-GOV to GDP\\1363-1403 (41 years) - Annually, Ref\#: 8 \& 47}]
\expandafter\plotcells\expandafter{\accA}
\coi
\end{axis}
\begin{axis}[barax,at={(650.25pt,912.25pt)},height=533.25pt,colormap name=parula64,point meta min=0,point meta max=1,
  ymin=0,ymax=1,ytick={0,0.1,0.2,0.3,0.4,0.5,0.6,0.7,0.8,0.9,1},yticklabels={0,0.1,0.2,0.3,0.4,0.5,0.6,0.7,0.8,0.9,1}]
\expandafter\plotbar\expandafter{\barA}
\end{axis}
\begin{axis}[mainax,at={(106.5pt,171.75pt)},colormap name=hsv64,point meta min=-3.14159,point meta max=3.14159,
  title={Phase Angle of Smoothed Wavelet Cross-Spectrum Coefficients (-$\pi$ to $\pi$)\\Time Series: DECILE07 x CONSUMPTION-GOV to GDP\\1363-1403 (41 years) - Annually, Ref\#: 8 \& 47}]
\expandafter\plotcells\expandafter{\accB}
\coi
\end{axis}
\begin{axis}[barax,at={(650.25pt,171.75pt)},height=533.25pt,colormap name=hsv64,point meta min=-3.14159,point meta max=3.14159,
  ymin=-3.14159,ymax=3.14159,ytick={-3,-2,-1,0,1,2,3},yticklabels={-3,-2,-1,0,1,2,3}]
\expandafter\plotbar\expandafter{\barB}
\end{axis}
\end{tikzpicture}
\end{document}
